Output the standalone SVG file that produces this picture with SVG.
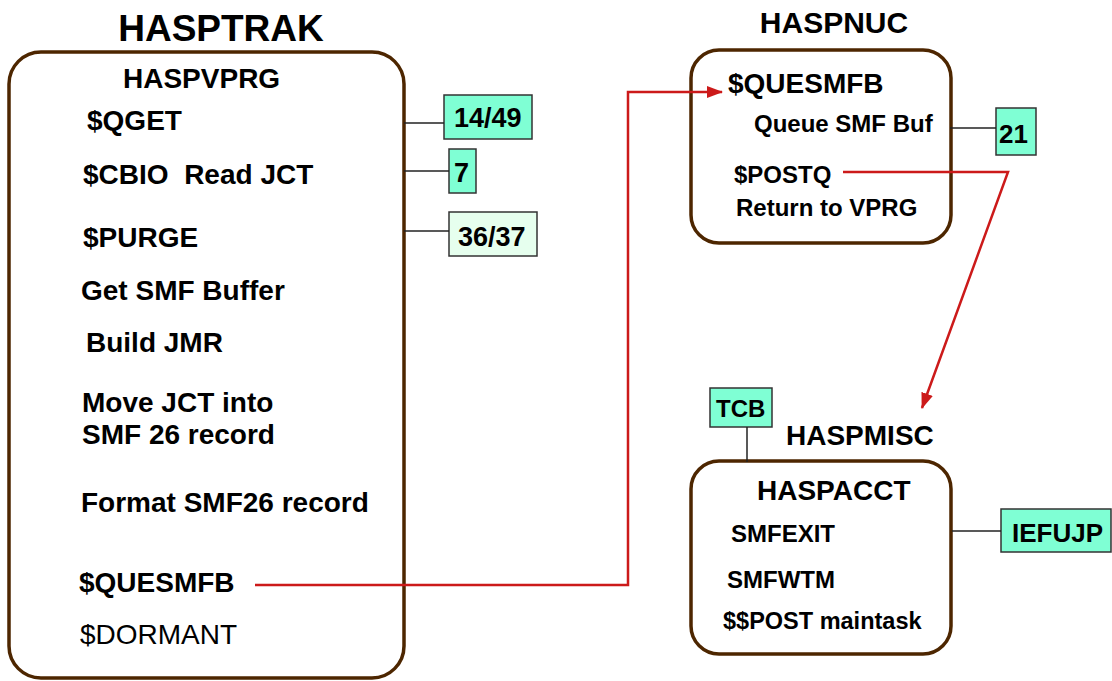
<svg xmlns="http://www.w3.org/2000/svg" width="1112" height="681" viewBox="0 0 1112 681">
<defs>
<marker id="arr" markerWidth="16" markerHeight="12" refX="15" refY="6" orient="auto" markerUnits="userSpaceOnUse">
<path d="M0,0 L16,6 L0,12 Z" fill="#cc1a1a"/>
</marker>
<style>
.box{fill:#fff;stroke:#4d2600;stroke-width:3.5}
.tag{fill:#7fffd4;stroke:#333;stroke-width:1.5}
.tagl{fill:#e6ffee;stroke:#333;stroke-width:1.5}
.ln{stroke:#222;stroke-width:1.5;fill:none}
.red{stroke:#cc1a1a;stroke-width:2.5;fill:none}
text{font-family:"Liberation Sans",Arial,sans-serif;font-weight:bold;fill:#000}
.t28{font-size:28px}
.t24{font-size:24px}
.n{font-weight:normal}
</style>
</defs>
<rect width="1112" height="681" fill="#fff"/>

<g id="hasptrak">
<text x="221" y="41" font-size="37" text-anchor="middle">HASPTRAK</text>
<rect class="box" x="9" y="52" width="395" height="626" rx="32"/>
<text class="t28" x="123" y="88">HASPVPRG</text>
<text class="t28" x="87" y="130">$QGET</text>
<text class="t28" x="83" y="184" xml:space="preserve">$CBIO  Read JCT</text>
<text class="t28" x="83" y="247">$PURGE</text>
<text class="t28" x="81" y="300">Get SMF Buffer</text>
<text class="t28" x="86" y="352">Build JMR</text>
<text class="t28" x="82" y="412">Move JCT into</text>
<text class="t28" x="82" y="444">SMF 26 record</text>
<text class="t28" x="81" y="512">Format SMF26 record</text>
<text class="t28" x="79" y="592">$QUESMFB</text>
<text class="t28 n" x="80" y="644">$DORMANT</text>
</g>

<g id="tag-1449">
<rect class="tag" x="444" y="95" width="88" height="44"/>
<text x="454" y="127" font-size="27">14/49</text>
</g>
<g id="tag-7">
<rect class="tag" x="449" y="149" width="27" height="44"/>
<text x="454" y="182" font-size="27">7</text>
</g>
<g id="tag-3637">
<rect class="tagl" x="449" y="212" width="88" height="44"/>
<text x="458" y="246" font-size="27">36/37</text>
</g>

<g id="haspnuc">
<text x="834" y="33" font-size="30" text-anchor="middle">HASPNUC</text>
<rect class="box" x="691" y="50" width="260" height="193" rx="28"/>
<text class="t28" x="728" y="93">$QUESMFB</text>
<text class="t24" x="754" y="132">Queue SMF Buf</text>
<text class="t24" x="734" y="183">$POSTQ</text>
<text class="t24" x="736" y="216">Return to VPRG</text>
</g>

<g id="tag-21">
<rect class="tag" x="996" y="108" width="40" height="47"/>
<text x="999" y="143" font-size="26">21</text>
</g>

<g id="tcb">
<rect class="tag" x="710" y="388" width="62" height="39"/>
<text x="716" y="417" font-size="24">TCB</text>
</g>

<g id="haspmisc">
<text class="t28" x="786" y="445">HASPMISC</text>
<rect class="box" x="691" y="461" width="260" height="193" rx="28"/>
<text class="t28" x="757" y="500">HASPACCT</text>
<text class="t24" x="731" y="542">SMFEXIT</text>
<text class="t24" x="727" y="588">SMFWTM</text>
<text x="723" y="629" font-size="23.5">$$POST maintask</text>
</g>

<g id="iefujp">
<rect class="tag" x="1001" y="509" width="110" height="43"/>
<text x="1012" y="542" font-size="26">IEFUJP</text>
</g>

<g id="connectors">
<line class="ln" x1="404" y1="123" x2="444" y2="123"/>
<line class="ln" x1="404" y1="171" x2="449" y2="171"/>
<line class="ln" x1="404" y1="231" x2="449" y2="231"/>
<line class="ln" x1="950" y1="128" x2="996" y2="128"/>
<line class="ln" x1="747" y1="427" x2="747" y2="462"/>
<line class="ln" x1="952" y1="531" x2="1001" y2="531"/>
<polyline class="red" points="255,585 628,585 628,92 722,92" marker-end="url(#arr)"/>
<polyline class="red" points="843,172 1008,172 922,408" marker-end="url(#arr)"/>
</g>
</svg>
